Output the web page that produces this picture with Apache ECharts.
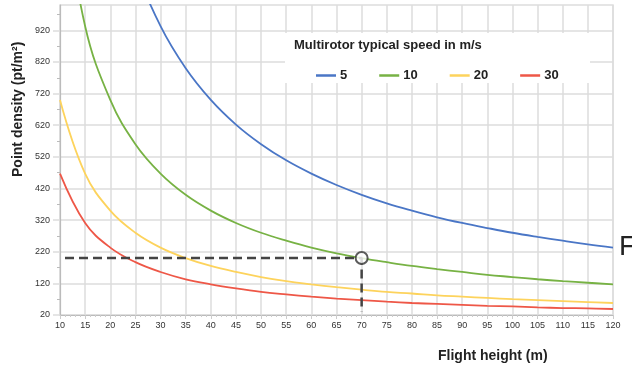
<!DOCTYPE html>
<html>
<head>
<meta charset="utf-8">
<script src="https://cdn.jsdelivr.net/npm/echarts@6/dist/echarts.min.js"></script>
<style>
  html, body { margin: 0; padding: 0; background: #fff; }
  #main { width: 632px; height: 373px; }
</style>
</head>
<body>
<div id="main"></div>
<script>
// flight height (m)
var heights = [10, 15, 20, 25, 30, 35, 40, 45, 50, 55, 60, 65, 70, 75, 80, 85, 90, 95, 100, 105, 110, 115, 120]
// point density (pt/m2) per multirotor speed
var speed5  = [null, null, 1400, 1120, 933, 800, 700, 622, 560, 509, 467, 431, 400, 373, 350, 329, 311, 295, 280, 267, 255, 243, 233]
var speed10 = [1400, 933, 700, 560, 467, 400, 350, 311, 280, 255, 233, 215, 200, 187, 175, 165, 156, 147, 140, 133, 127, 122, 117]
var speed20 = [700, 467, 350, 280, 233, 200, 175, 156, 140, 127, 117, 108, 100, 93, 88, 82, 78, 74, 70, 67, 64, 61, 58]
var speed30 = [467, 311, 233, 187, 156, 133, 117, 104, 93, 85, 78, 72, 67, 62, 58, 55, 52, 49, 47, 44, 42, 41, 39]
var speedNames = ['5', '10', '20', '30']
var speedColors = ['#4a76c6', '#77b244', '#fdd35c', '#ee5747']
// marked example: 70 m at 200 pt/m2
var markH = 70
var markD = 200
var guideLine = [[11, markD], [markH, markD], [markH, 30]]
var yMajor = [20, 120, 220, 320, 420, 520, 620, 720, 820, 920]
var yMinor = [70, 170, 270, 370, 470, 570, 670, 770, 870, 970]

function pairs (vals) {
  var out = []
  for (var i = 0; i < heights.length; i++) {
    if (vals[i] != null) out.push([heights[i], vals[i]])
  }
  return out
}

var chart = echarts.init(document.getElementById('main'))
var lineSets = [speed5, speed10, speed20, speed30]
var series = []
for (var k = 0; k < lineSets.length; k++) {
  series.push({
    name: speedNames[k],
    type: 'line',
    smooth: 0.4,
    symbol: 'none',
    clip: true,
    data: pairs(lineSets[k]),
    lineStyle: { color: speedColors[k], width: 1.8 },
    itemStyle: { color: speedColors[k] },
    z: 3
  })
}
series.push({
  type: 'line',
  symbol: 'none',
  data: guideLine,
  lineStyle: { color: '#444', width: 2.5, type: [9, 5] },
  z: 4
})
series.push({
  type: 'scatter',
  data: [[markH, markD]],
  symbol: 'circle',
  symbolSize: 12,
  itemStyle: { color: '#fff', borderColor: '#333', borderWidth: 2 },
  z: 5
})

var gridGray = '#ddd'

var option = {
  animation: false,
  grid: {
    left: 60, right: 19, top: 5, bottom: 58,
    show: true, borderColor: gridGray, borderWidth: 1.5
  },
  legend: {
    data: speedNames,
    left: 311, top: 64,
    itemGap: 32,
    icon: 'rect',
    itemWidth: 20,
    itemHeight: 2.5,
    textStyle: { fontFamily: 'Liberation Sans', fontWeight: 'bold', fontSize: 13, color: '#222', padding: [0, 0, 0, -1] },
    z: 6
  },
  graphic: [
    { type: 'rect', shape: { x: 285, y: 33, width: 305, height: 50 }, style: { fill: '#fff' }, z: 2 },
    { type: 'text', left: 294, top: 39, z: 6,
      style: { text: 'Multirotor typical speed in m/s', font: 'bold 13px "Liberation Sans"', fill: '#222' } },
    { type: 'text', x: 11, y: 177, rotation: Math.PI / 2, z: 6,
      style: { text: 'Point density (pt/m²)', font: 'bold 14px "Liberation Sans"', fill: '#222' } },
    { type: 'text', left: 438, top: 349, z: 6,
      style: { text: 'Flight height (m)', font: 'bold 14px "Liberation Sans"', fill: '#222' } },
    { type: 'text', left: 619, top: 233, z: 6,
      style: { text: 'F', font: '28px "Liberation Sans"', fill: '#222' } }
  ],
  xAxis: {
    type: 'value',
    min: 10, max: 120, interval: 5,
    axisLine: { lineStyle: { color: '#bbb', width: 1.2 } },
    axisTick: { show: true, length: 4, lineStyle: { color: '#ccc' } },
    minorTick: { show: true, splitNumber: 5, length: 2, lineStyle: { color: '#ccc' } },
    axisLabel: { fontFamily: 'Liberation Sans', fontSize: 9, color: '#333', margin: 6, hideOverlap: false },
    splitLine: { show: true, lineStyle: { color: gridGray, width: 1.5 } }
  },
  yAxis: [{
    type: 'value',
    min: 20, max: 1000, interval: 20,
    axisLine: { show: true, lineStyle: { color: '#bbb', width: 1.2 } },
    axisTick: { show: true, length: 7, customValues: yMajor, lineStyle: { color: gridGray, width: 1.5 } },
    axisLabel: { customValues: yMajor, fontFamily: 'Liberation Sans', fontSize: 9, color: '#333', margin: 10 },
    splitLine: { show: true, lineStyle: { color: gridGray, width: 1.5 } }
  }, {
    type: 'value',
    position: 'left',
    min: 20, max: 1000,
    axisLine: { show: false },
    axisTick: { show: true, length: 3, customValues: yMinor, lineStyle: { color: '#bbb' } },
    axisLabel: { show: false },
    splitLine: { show: false }
  }],
  series: series
}
chart.setOption(option)
</script>
</body>
</html>
